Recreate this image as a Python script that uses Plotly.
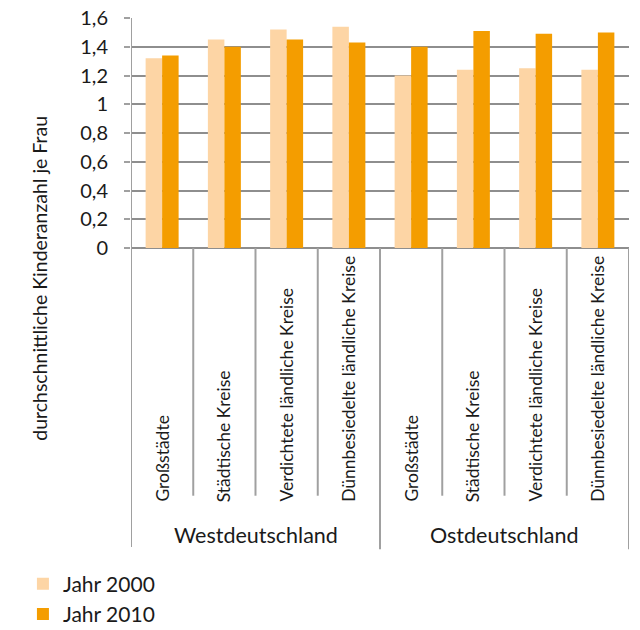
import plotly.graph_objects as go

regions = ["Westdeutschland", "Ostdeutschland"]
kreistypen = ["Großstädte", "Städtische Kreise", "Verdichtete ländliche Kreise",
              "Dünnbesiedelte ländliche Kreise"]
jahr_2000 = [1.32, 1.45, 1.52, 1.54, 1.20, 1.24, 1.25, 1.24]
jahr_2010 = [1.34, 1.40, 1.45, 1.43, 1.40, 1.51, 1.49, 1.50]
series_names = ["Jahr 2000", "Jahr 2010"]
y_ticks = [0, 0.2, 0.4, 0.6, 0.8, 1.0, 1.2, 1.4, 1.6]
y_title = "durchschnittliche Kinderanzahl je Frau"

FONT = "Lato, 'Open Sans', sans-serif"
TXT = "#1a1a1a"
GRID = "#8e8e8e"
LINE = "#a0a0a0"
C2000 = "#FDD5A5"
C2010 = "#F49D00"

keys = [f"{r}|{k}" for r in regions for k in kreistypen]
n = len(keys)

fig = go.Figure()
fig.add_trace(go.Bar(x=keys, y=jahr_2000, name=series_names[0], marker_color=C2000,
                     marker_line_width=0))
fig.add_trace(go.Bar(x=keys, y=jahr_2010, name=series_names[1], marker_color=C2010,
                     marker_line_width=0))

annotations = []
# inner category labels (rotated, bottom aligned)
for key in keys:
    label = key.split("|")[1]
    annotations.append(dict(x=key, xref="x", y=-1.113, yref="paper", text=label,
                            textangle=-90, showarrow=False, xanchor="center",
                            yanchor="bottom", font=dict(family=FONT, size=17.5, color=TXT)))
# group labels
per = len(kreistypen)
for gi, r in enumerate(regions):
    annotations.append(dict(x=gi * per + (per - 1) / 2, xref="x", y=-1.248, yref="paper",
                            text=r, showarrow=False, xanchor="center", yanchor="middle",
                            font=dict(family=FONT, size=21.5, color=TXT)))
# y title
annotations.append(dict(x=-0.183, xref="paper", y=-0.13, yref="paper", text=y_title,
                        textangle=-90, showarrow=False, xanchor="center", yanchor="middle",
                        font=dict(family=FONT, size=19.5, color=TXT)))

shapes = []
# separators between categories
for i in range(1, n):
    is_group = (i % per == 0)
    shapes.append(dict(type="line", xref="x", yref="paper", x0=i - 0.5, x1=i - 0.5,
                       y0=0, y1=(-1.31 if is_group else -1.077),
                       line=dict(color=LINE, width=2)))
# outer left / right lines
shapes.append(dict(type="line", xref="x", yref="paper", x0=-0.5, x1=-0.5, y0=1, y1=-1.30,
                   line=dict(color=LINE, width=2)))
shapes.append(dict(type="line", xref="x", yref="paper", x0=n - 0.5, x1=n - 0.5, y0=0, y1=-1.31,
                   line=dict(color=LINE, width=2)))

fig.update_layout(
    width=640, height=630,
    margin=dict(l=131, r=11, t=18, b=382, autoexpand=False),
    plot_bgcolor="white", paper_bgcolor="white",
    barmode="group", bargap=0.47, bargroupgap=0,
    separators=",.",
    font=dict(family=FONT, color=TXT),
    showlegend=True,
    legend=dict(x=-0.217, xanchor="left", y=-1.372, yanchor="top",
                font=dict(family=FONT, size=21, color=TXT),
                itemwidth=30, tracegroupgap=0, bgcolor="rgba(0,0,0,0)"),
    annotations=annotations,
    shapes=shapes,
)
fig.update_xaxes(type="category", categoryorder="array", categoryarray=keys,
                 range=[-0.5, n - 0.5], showticklabels=False, ticks="",
                 showgrid=False, showline=False, zeroline=False)
fig.update_yaxes(range=[0, 1.6], tickvals=y_ticks, showgrid=True, gridcolor=GRID,
                 gridwidth=2, zeroline=True, zerolinecolor=GRID, zerolinewidth=2,
                 showline=False, ticks="outside", ticklen=6, tickwidth=2, tickcolor=LINE,
                 ticklabelstandoff=12,
                 tickfont=dict(family=FONT, size=20, color=TXT))

fig.write_html("out.html")
